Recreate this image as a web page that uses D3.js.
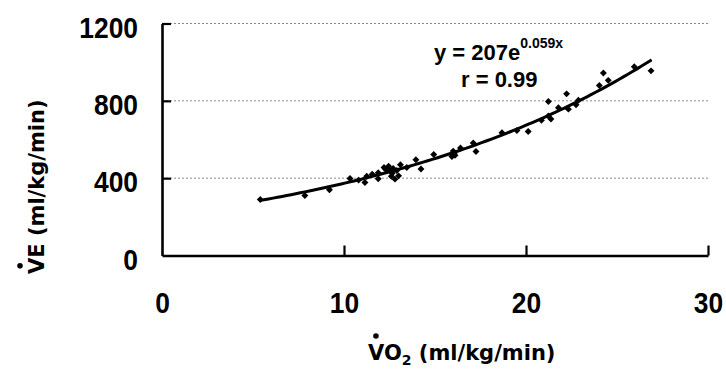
<!DOCTYPE html>
<html>
<head>
<meta charset="utf-8">
<script src="https://cdn.jsdelivr.net/npm/d3@7"></script>
<style>
  body { margin: 0; background: #fff; }
  svg { display: block; }
</style>
</head>
<body>
<svg id="chart" width="726" height="373"></svg>
<script>
// VO2 (x) and VE (y) readings, ml/kg/min
const vo2 = [5.4, 7.85, 9.2, 10.33, 10.8, 11.15, 11.25, 11.55, 11.88, 11.88,
  12.2, 12.3, 12.45, 12.5, 12.6, 12.65, 12.7, 12.8, 12.9, 13.0,
  13.1, 13.45, 13.95, 14.23, 14.93, 15.93, 16.0, 16.05, 16.1, 16.4,
  17.1, 17.25, 18.68, 19.5, 20.12, 20.85, 21.23, 21.23, 21.37, 21.78,
  22.23, 22.33, 22.75, 22.88, 24.03, 24.25, 24.52, 25.95, 26.87];
const ve = [290, 310, 340, 398, 390, 378, 410, 420, 397, 428,
  455, 445, 462, 440, 410, 425, 450, 395, 440, 412,
  470, 455, 495, 447, 522, 512, 540, 528, 518, 556,
  582, 538, 635, 647, 641, 699, 797, 722, 706, 764,
  836, 757, 780, 803, 879, 944, 906, 976, 955];

const xTicks = [0, 10, 20, 30];
const yTicks = [0, 400, 800, 1200];
const gridTicks = [400, 800, 1200];

// fitted curve y = a * e^(b x), as printed on the chart
const fitA = 207, fitB = 0.059;
const fitFrom = 5.35, fitTo = 26.9;

const svg = d3.select("#chart");
const x = d3.scaleLinear().domain([0, 30]).range([162, 708]);
const y = d3.scaleLinear().domain([0, 1200]).range([255.5, 23.5]);

const tickFont = "'Liberation Sans', Arial, sans-serif";
const titleFont = "'DejaVu Sans', sans-serif";

// squeeze text sideways a bit, the original uses a condensed face
function condense(sel, k) {
  sel.each(function () {
    const len = this.getComputedTextLength();
    d3.select(this).attr("textLength", len * k).attr("lengthAdjust", "spacingAndGlyphs");
  });
}

// dotted gridlines
svg.append("g").selectAll("line")
  .data(gridTicks)
  .enter().append("line")
  .attr("x1", x(0)).attr("x2", x(30))
  .attr("y1", d => y(d)).attr("y2", d => y(d))
  .attr("stroke", "#8a8a8a")
  .attr("stroke-width", 1)
  .attr("stroke-dasharray", "2,2");

// Y axis
const yAxis = svg.append("g")
  .attr("transform", "translate(" + x(0) + ",0)")
  .call(d3.axisLeft(y).tickValues(yTicks).tickFormat(d3.format("d"))
    .tickSizeInner(-9).tickSizeOuter(0).tickPadding(24));

// X axis
const xAxis = svg.append("g")
  .attr("transform", "translate(0," + y(0) + ")")
  .call(d3.axisBottom(x).tickValues(xTicks).tickFormat(d3.format("d"))
    .tickSizeInner(-10).tickSizeOuter(0).tickPadding(36));

[yAxis, xAxis].forEach(g => {
  g.attr("font-family", tickFont).attr("font-size", 30).attr("font-weight", "bold");
  g.select(".domain").attr("stroke", "#000").attr("stroke-width", 2.6);
  g.selectAll(".tick line").attr("stroke", "#000").attr("stroke-width", 2.2);
  g.selectAll(".tick text").attr("fill", "#000");
  g.selectAll(".tick").filter(d => d === 0).select("line").remove();
  condense(g.selectAll(".tick text"), 0.88);
});
yAxis.selectAll(".tick text").attr("dy", "0.45em");

// trend curve
const fitXs = d3.range(fitFrom, fitTo, 0.25).concat([fitTo]);
svg.append("path")
  .datum(fitXs)
  .attr("fill", "none")
  .attr("stroke", "#000")
  .attr("stroke-width", 3)
  .attr("d", d3.line().x(d => x(d)).y(d => y(fitA * Math.exp(fitB * d))));

// points (diamonds)
svg.append("g").selectAll("path")
  .data(vo2.map((v, i) => [v, ve[i]]))
  .enter().append("path")
  .attr("d", d3.symbol(d3.symbolSquare, 24))
  .attr("transform", d => "translate(" + x(d[0]) + "," + y(d[1]) + ") rotate(45)")
  .attr("fill", "#000");

// equation
const eq = svg.append("text")
  .attr("x", 434).attr("y", 60)
  .attr("font-family", tickFont).attr("font-weight", "bold").attr("font-size", 22);
eq.append("tspan").text("y = " + fitA + "e");
eq.append("tspan").attr("dy", -12).attr("font-size", 14).text(fitB.toFixed(3) + "x");

svg.append("text")
  .attr("x", 461).attr("y", 87)
  .attr("font-family", tickFont).attr("font-weight", "bold").attr("font-size", 22)
  .text("r = 0.99");

// axis titles with a dot over the V
function titleWithDot(g, sub, rest) {
  const t = g.append("text")
    .attr("font-family", titleFont).attr("font-weight", "bold").attr("font-size", 21);
  t.append("tspan").text("V");
  if (sub) {
    t.append("tspan").text(sub[0]);
    t.append("tspan").attr("dy", 5).attr("font-size", 14).text(sub[1]);
    t.append("tspan").attr("dy", -5).text(rest);
  } else {
    t.append("tspan").text(rest);
  }
  const vw = t.node().getSubStringLength(0, 1);
  g.append("circle").attr("cx", vw / 2).attr("cy", -24).attr("r", 2.8).attr("fill", "#000");
}

titleWithDot(svg.append("g").attr("transform", "translate(368,360)"), ["O", "2"], " (ml/kg/min)");
titleWithDot(svg.append("g").attr("transform", "translate(44,274) rotate(-90)"), null, "E (ml/kg/min)");
</script>
</body>
</html>
